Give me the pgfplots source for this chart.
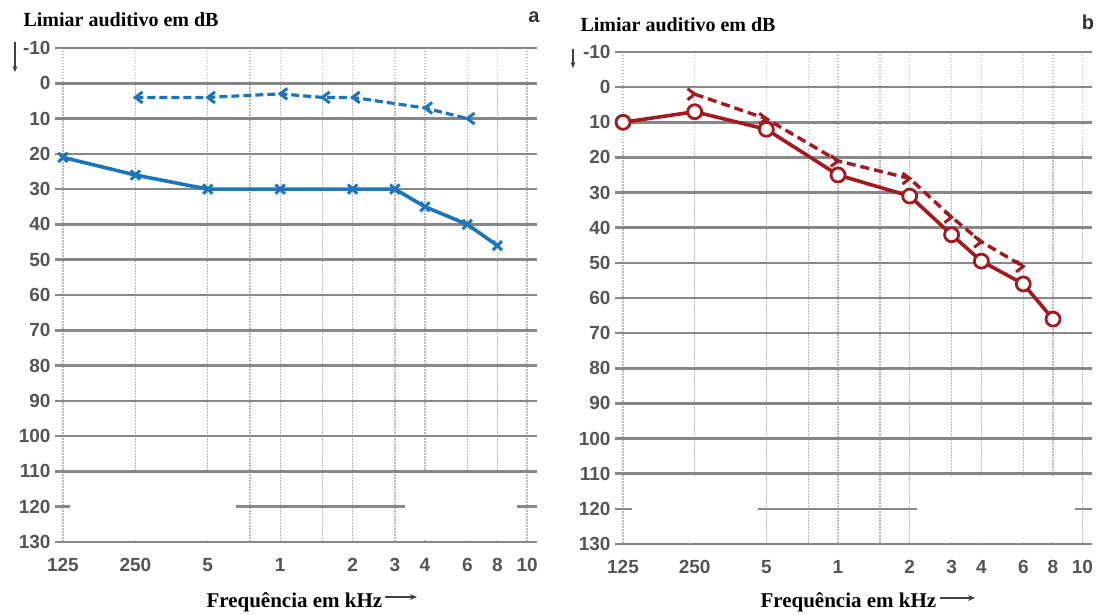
\documentclass[border=0pt]{standalone}
\usepackage{fontspec}
\setmainfont{Liberation Serif}
\setsansfont{Liberation Sans}
\usepackage{pgfplots}
\pgfplotsset{compat=1.18}
\usetikzlibrary{arrows.meta}

\definecolor{airblue}{RGB}{28,117,188}
\definecolor{airred}{RGB}{162,26,32}
\definecolor{gridh}{RGB}{135,135,135}
\definecolor{gridv}{RGB}{185,185,185}
\definecolor{ticktxt}{RGB}{85,85,85}

% chevron marks for bone conduction
\pgfdeclareplotmark{ltchev}{%
  \pgfpathmoveto{\pgfqpoint{1.3\pgfplotmarksize}{\pgfplotmarksize}}%
  \pgfpathlineto{\pgfqpoint{0pt}{0pt}}%
  \pgfpathlineto{\pgfqpoint{1.3\pgfplotmarksize}{-\pgfplotmarksize}}%
  \pgfusepathqstroke}
\pgfdeclareplotmark{gtchev}{%
  \pgfpathmoveto{\pgfqpoint{-1.3\pgfplotmarksize}{\pgfplotmarksize}}%
  \pgfpathlineto{\pgfqpoint{0pt}{0pt}}%
  \pgfpathlineto{\pgfqpoint{-1.3\pgfplotmarksize}{-\pgfplotmarksize}}%
  \pgfusepathqstroke}

% x = octaves above 125 Hz
\pgfplotsset{audiogram/.style={
  scale only axis,
  y dir=reverse,
  ymin=-10, ymax=130,
  ytick={-10,0,10,20,30,40,50,60,70,80,90,100,110,120,130},
  yticklabels={-10,0,10,20,30,40,50,60,70,80,90,100,110,120,130},
  xtick={0,1,2,2.585,3,3.585,4,4.585,5,5.585,6,6.41},
  xticklabels={125,250,5,,1,,2,3,4,6,8,10},
  grid=major,
  x grid style={gridv, line width=1.3pt, dash pattern=on 1.5pt off 1.5pt},
  y grid style={gridh, line width=2.6pt},
  axis line style={draw=none},
  major tick length=0pt,
  tick label style={font=\sffamily\bfseries\fontsize{19}{19}\selectfont, text=ticktxt},
  yticklabel style={xshift=-1pt},
  xticklabel style={yshift=-13pt},
  clip=false,
}}

\begin{document}
\begin{tikzpicture}
\path[use as bounding box] (0,0) rectangle (1097pt,615pt);

% ---- panel a ----
\begin{axis}[audiogram, at={(55pt,73pt)}, anchor=south west,
  width=482pt, height=494pt, xmin=-0.11, xmax=6.547]
\fill[white] (0.1,110.7) rectangle (2.39,129.3);
\fill[white] (4.72,110.7) rectangle (6.27,129.3);
\addplot[airblue, line width=3.6pt, mark=x, mark size=6.5pt,
  mark options={solid, line width=3pt}] coordinates {
(0,21) (1,26) (2,30) (3,30) (4,30) (4.585,30) (5,35) (5.585,40) (6,46)
};
\addplot[airblue, line width=3.2pt, dash pattern=on 8pt off 4pt, mark=ltchev, mark size=5.5pt,
  mark options={solid, line width=3pt}] coordinates {
(1,4) (2,4) (3,3) (3.585,4) (4,4) (5,7) (5.585,10)
};
\end{axis}

% ---- panel b ----
\begin{axis}[audiogram, at={(615pt,71pt)}, anchor=south west,
  width=477pt, height=492pt, xmin=-0.112, xmax=6.544]
\fill[white] (0.126,110.7) rectangle (1.88,129.3);
\fill[white] (4.10,110.7) rectangle (6.31,129.3);
\addplot[airred, line width=3.4pt, dash pattern=on 9pt off 5pt, mark=gtchev, mark size=5.5pt,
  mark options={solid, line width=3pt}] coordinates {
(1,2) (2,9) (3,21) (4,26) (4.585,37) (5,44) (5.585,51)
};
\addplot[airred, line width=3.6pt, mark=*, mark size=7pt,
  mark options={solid, fill=white, draw=airred, line width=2.8pt}] coordinates {
(0,10) (1,7) (2,12) (3,25) (4,31) (4.585,42) (5,49.5) (5.585,56) (6,66)
};
\end{axis}

% titles and labels
\node[anchor=base west, font=\bfseries\fontsize{20}{20}\selectfont] at (20pt,588pt) {Limiar auditivo em dB};
\node[anchor=base west, font=\bfseries\fontsize{20}{20}\selectfont] at (577pt,583pt) {Limiar auditivo em dB};
\node[anchor=base, font=\sffamily\bfseries\fontsize{20}{20}\selectfont, text=black!80] at (534pt,592pt) {a};
\node[anchor=base, font=\sffamily\bfseries\fontsize{20}{20}\selectfont, text=black!80] at (1088pt,585pt) {b};
\node[anchor=base west, font=\bfseries\fontsize{21}{21}\selectfont] at (203pt,7pt) {Frequência em kHz};
\node[anchor=base west, font=\bfseries\fontsize{21}{21}\selectfont] at (757pt,7pt) {Frequência em kHz};
\draw[-{Stealth[length=7pt,width=6pt]}, line width=1.2pt, black!75] (385pt,18pt) -- (417pt,18pt);
\draw[-{Stealth[length=7pt,width=6pt]}, line width=1.2pt, black!75] (940pt,17pt) -- (975pt,17pt);
\draw[-{Stealth[length=6pt,width=5pt]}, line width=1.2pt, black!75] (15pt,573pt) -- (15pt,543pt);
\draw[-{Stealth[length=6pt,width=5pt]}, line width=1.2pt, black!75] (573pt,566pt) -- (573pt,547pt);
\end{tikzpicture}
\end{document}
